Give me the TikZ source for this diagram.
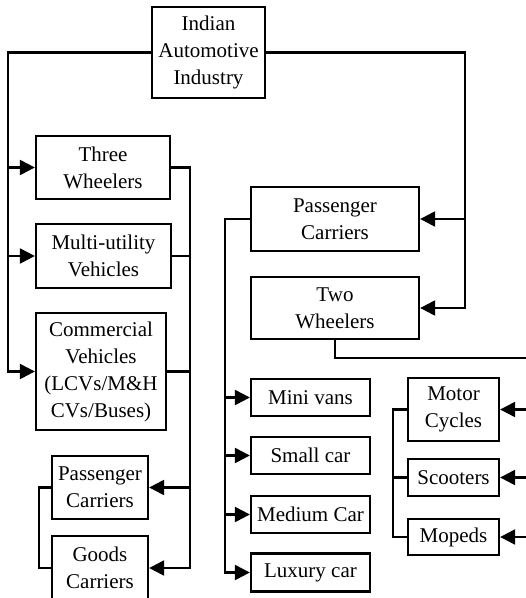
\documentclass[tikz,border=0pt]{standalone}
\usepackage{fontspec}
\setmainfont{Liberation Serif}
\usetikzlibrary{arrows.meta}
\begin{document}
\begin{tikzpicture}[x=1pt,y=-1pt,
  box/.style={draw,line width=2.3pt,inner sep=0pt,align=center,
    font=\fontsize{21}{27}\selectfont},
  con/.style={line width=2.3pt},
  arr/.style={con,-{Triangle[length=15pt,width=15pt]}}]
\useasboundingbox (0,0) rectangle (526,598);
\clip (0,0) rectangle (526,598);
% nodes
\node[box,minimum width=113pt,minimum height=91pt] (ind) at (208.5,52.5) {Indian\\Automotive\\Industry};
\node[box,minimum width=134pt,minimum height=63pt] (three) at (103,167.5) {Three\\Wheelers};
\node[box,minimum width=135pt,minimum height=64pt] (multi) at (103.5,256) {Multi-utility\\Vehicles};
\node[box,minimum width=130pt,minimum height=117pt] (comm) at (101,371.5) {Commercial\\Vehicles\\(LCVs/M\&H\\CVs/Buses)};
\node[box,minimum width=96pt,minimum height=63pt] (pcl) at (100,487.5) {Passenger\\Carriers};
\node[box,minimum width=96pt,minimum height=64pt] (gcl) at (100,568) {Goods\\Carriers};
\node[box,minimum width=168pt,minimum height=64pt] (pcr) at (335,219) {Passenger\\Carriers};
\node[box,minimum width=168pt,minimum height=62pt] (two) at (335,308) {Two\\Wheelers};
\node[box,minimum width=119pt,minimum height=37pt] (mini) at (310.5,397.5) {Mini vans};
\node[box,minimum width=119pt,minimum height=37pt] (small) at (310.5,455.5) {Small car};
\node[box,minimum width=119pt,minimum height=37pt] (medium) at (310.5,514.5) {Medium Car};
\node[box,minimum width=119pt,minimum height=38pt] (luxury) at (310.5,572.5) {Luxury car};
\node[box,minimum width=91pt,minimum height=63pt] (motor) at (453.5,409.5) {Motor\\Cycles};
\node[box,minimum width=91pt,minimum height=37pt] (scoot) at (453.5,477.5) {Scooters};
\node[box,minimum width=91pt,minimum height=36pt] (moped) at (453.5,537) {Mopeds};
% trunk coordinates
\coordinate (trunkL) at (8,371.5);
\coordinate (trunkM) at (190,568);
\coordinate (trunkR) at (465,308);
\coordinate (trunkP) at (225,572.5);
\coordinate (trunkE) at (532,537);
\coordinate (bend) at (335,358);
% left trunk
\draw[arr] (ind.west) -| (trunkL) -- (comm.west);
\draw[arr] (three.west -| trunkL) -- (three.west);
\draw[arr] (multi.west -| trunkL) -- (multi.west);
% middle trunk
\draw[arr] (three.east) -| (trunkM) -- (gcl.east);
\draw[con] (multi.east) -- (multi.east -| trunkM);
\draw[con] (comm.east) -- (comm.east -| trunkM);
\draw[arr] (pcl.east -| trunkM) -- (pcl.east);
\draw[con] (pcl.west) -- ++(-12,0) |- (gcl.west);
% right trunk
\draw[arr] (ind.east) -| (trunkR) -- (two.east);
\draw[arr] (pcr.east -| trunkR) -- (pcr.east);
% passenger carriers subtree
\draw[arr] (pcr.west) -| (trunkP) -- (luxury.west);
\draw[arr] (mini.west -| trunkP) -- (mini.west);
\draw[arr] (small.west -| trunkP) -- (small.west);
\draw[arr] (medium.west -| trunkP) -- (medium.west);
% two wheelers subtree
\draw[arr] (two.south) -- (bend) -| (trunkE) -- (moped.east);
\draw[arr] (motor.east -| trunkE) -- (motor.east);
\draw[arr] (scoot.east -| trunkE) -- (scoot.east);
\draw[con] (motor.west) -- ++(-14,0) |- (moped.west);
\draw[con] (scoot.west) -- ++(-14,0);
\end{tikzpicture}
\end{document}
